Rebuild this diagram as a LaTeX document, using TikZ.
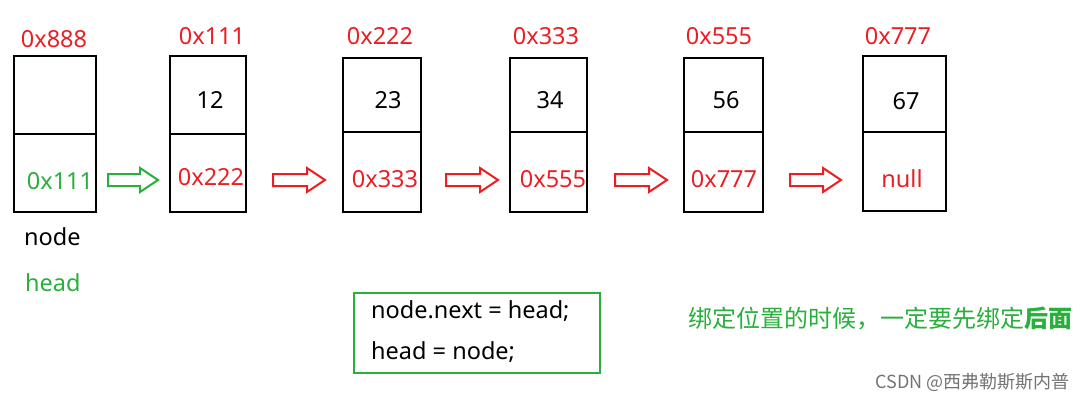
\documentclass[tikz,border=0pt]{standalone}
\usepackage{fontspec}
\setmainfont{Noto Sans}
\newfontfamily\cjk{Noto Sans CJK SC}
\begin{document}
\begin{tikzpicture}[x=1pt,y=-1pt,
  cell/.style={draw=black,line width=1.6pt},
  lbl/.style={font=\fontsize{23.5}{27}\selectfont,inner sep=0pt},
  blk/.style={line width=2pt,fill=white}]
\definecolor{rd}{RGB}{235,30,35}
\definecolor{gr}{RGB}{40,175,60}
\useasboundingbox (0,0) rectangle (1085,400);
\newcommand{\cellbox}[7]{% name x1 x2 ytop ydiv ybot
  \draw[cell] (#2,#4) rectangle (#3,#6);
  \draw[cell] (#2,#5) -- (#3,#5);
  \coordinate (#1) at (#2,#4);}
\cellbox{b1}{14}{96}{56}{134}{212}{}
\cellbox{b2}{170}{246}{56}{134}{212}{}
\cellbox{b3}{343}{421}{58}{132}{212}{}
\cellbox{b4}{510}{587}{58}{132}{212}{}
\cellbox{b5}{684}{763}{58}{132}{212}{}
\cellbox{b6}{863}{946}{56}{132}{211}{}
% addresses
\node[lbl,text=rd] (a1) at (54,39) {0x888};
\node[lbl,text=rd] (a2) at (212,36) {0x111};
\node[lbl,text=rd] (a3) at (380,36) {0x222};
\node[lbl,text=rd] (a4) at (546,36) {0x333};
\node[lbl,text=rd] (a5) at (719,36) {0x555};
\node[lbl,text=rd] (a6) at (898,36) {0x777};
% values
\node[lbl] (v2) at (210,100) {12};
\node[lbl] (v3) at (388,100) {23};
\node[lbl] (v4) at (550,100) {34};
\node[lbl] (v5) at (726,100) {56};
\node[lbl] (v6) at (906,101) {67};
% next
\node[lbl,text=gr] (n1) at (60,181) {0x111};
\node[lbl,text=rd] (n2) at (211,177) {0x222};
\node[lbl,text=rd] (n3) at (385,179) {0x333};
\node[lbl,text=rd] (n4) at (553,179) {0x555};
\node[lbl,text=rd] (n5) at (724,179) {0x777};
\node[lbl,text=rd] (n6) at (902,179) {null};
% block arrows
\newcommand{\barrow}[3]{% x1 x2 color
  \draw[blk,draw=#3] (#1,174) -- (#2-18,174) -- (#2-18,168) -- (#2,180)
    -- (#2-18,192) -- (#2-18,186) -- (#1,186) -- cycle;}
\barrow{108}{158}{gr}
\barrow{273}{325}{rd}
\barrow{446}{498}{rd}
\barrow{615}{667}{rd}
\barrow{790}{841}{rd}
\node[lbl,anchor=west] (nd) at (24,237) {node};
\node[lbl,anchor=west,text=gr] (hd) at (25,283) {head};
\draw[draw=gr,line width=1.6pt] (354,293) rectangle (600,373);
\node[lbl,anchor=west] (c1) at (371,311) {node.next = head;};
\node[lbl,anchor=west] (c2) at (371,352) {head = node;};
\node[font=\cjk\fontsize{24}{28}\selectfont,text=gr,anchor=west,inner sep=0pt] (note) at (688,319) {绑定位置的时候，一定要先绑定\textbf{后面}};
\node[font=\cjk\fontsize{18}{20}\selectfont,text=black!55,anchor=east,inner sep=0pt] (wm) at (1070,382) {CSDN @西弗勒斯斯内普};
\end{tikzpicture}
\end{document}
